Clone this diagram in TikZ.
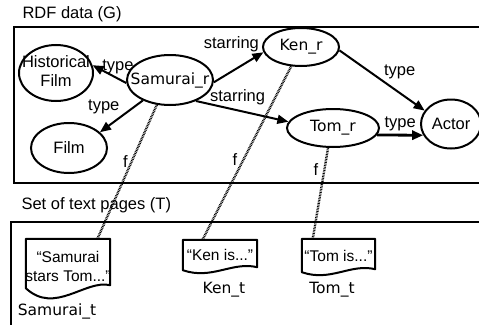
\documentclass[tikz,border=0pt]{standalone}
\usepackage{fontspec}
\setmainfont{Liberation Sans}
\newfontfamily\namefont{DejaVu Sans}
\usetikzlibrary{
	shapes.geometric,
	arrows.meta
}
\tikzset{
	every node/.style={
		font=\fontsize{16.5}{19}\selectfont
	},
	res/.style={ellipse, draw, line width=2pt, inner sep=0pt},
	rname/.style={font=\namefont\fontsize{15.5}{19}\selectfont},
	rel/.style={line width=2pt, -{Triangle[length=11pt,width=9pt]}},
	lbl/.style={inner sep=1pt},
	link/.style={line width=2.4pt, dash pattern=on 0.8pt off 0.8pt},
	page/.style={rectangle, inner sep=0pt, font=\fontsize{15.5}{19}\selectfont},
	pageline/.style={line width=2pt, line join=round},
	area/.style={line width=2pt}
}
% text that takes no width, so the shape keeps its given size
\newcommand{\zw}[1]{\makebox[0pt]{#1}}
% page with a wavy lower edge: #1 node, #2 depth of the wave
\newcommand{\pageoutline}[2]{
	\draw[pageline] (#1.north west) -- (#1.north east) -- ([yshift=3pt]#1.south east)
	.. controls ([xshift=-25pt,yshift=9pt]#1.south east) and ([xshift=29pt,yshift=-#2pt]#1.south west) .. (#1.south west) -- cycle;
}

\begin{document}
\begin{tikzpicture}[x=1pt, y=-1pt] %%%%% RDF data and text pages
	\useasboundingbox (0,0) rectangle (479,324);
	% the two areas
	\draw[area] (14,27) rectangle (495,183);
	\draw[area] (11,222) rectangle (495,340);
	\node[anchor=west] (rdf) at (19,14) {RDF data (G)};
	\node[anchor=west] (txt) at (18,205) {Set of text pages (T)};
	
	% resources
	\node[res, minimum width=74pt, minimum height=56pt] (hist) at (56,73) {\zw{\begin{tabular}{@{}c@{}}Historical\\Film\end{tabular}}};
	\node[res, rname, minimum width=86pt, minimum height=50pt] (samr) at (170,80) {\zw{Samurai\_r}};
	\node[res, minimum width=76pt, minimum height=50pt] (film) at (69,148) {\zw{Film}};
	\node[res, rname, minimum width=76pt, minimum height=38pt] (kenr) at (301,47) {\zw{Ken\_r}};
	\node[res, rname, minimum width=92pt, minimum height=38pt] (tomr) at (333,128) {\zw{Tom\_r}};
	\node[res, minimum width=60pt, minimum height=49pt] (actor) at (451,124) {\zw{Actor}};
	
	\draw[rel] (samr.184) -- (hist.12) node[lbl, pos=0.25, above=3pt] {type};
	\draw[rel] (samr.217) -- (film.27) node[lbl, pos=0.5, above left] {type};
	\draw[rel] (samr.-3) -- (kenr.188) node[lbl, pos=0.95, above left] {starring};
	\draw[rel] (samr.-39) -- (tomr.172) node[lbl, pos=0.45, above=3pt] {starring};
	\draw[rel] (kenr.-5) -- (actor.153) node[lbl, pos=0.5, above right] {type};
	\draw[rel, line width=2.8pt] (tomr.-9) -- (actor.202) node[lbl, pos=0.5, above=2pt] {type};
	
	% text pages
	\node[page, minimum width=84pt, minimum height=49pt] (samt) at (68,263.5) {\zw{\raisebox{-8pt}[0pt][0pt]{\begin{tabular}{@{}c@{}}“Samurai\\stars Tom...”\end{tabular}}}};
	\node[page, minimum width=74pt, minimum height=30pt] (kent) at (220,255) {\zw{“Ken is...”}};
	\node[page, minimum width=73pt, minimum height=33pt] (tomt) at (338.5,255.5) {\zw{“Tom is...”}};
	\pageoutline{samt}{27}
	\pageoutline{kent}{10}
	\pageoutline{tomt}{10}
	\node[rname] (samtname) at (57,311) {Samurai\_t};
	\node[rname] (kentname) at (224,290) {Ken\_t};
	\node[rname] (tomtname) at (332,290) {Tom\_t};
	
	% f
	\draw[link] (samr.242) -- (samt.40) node[lbl, pos=0.42, left=2pt] {f};
	\draw[link] (kenr.243) -- (kent.139) node[lbl, pos=0.54, left=4pt] {f};
	\draw[link] (tomr.256) -- (tomt.147) node[lbl, pos=0.24, left=4pt] {f};
\end{tikzpicture}
\end{document}
